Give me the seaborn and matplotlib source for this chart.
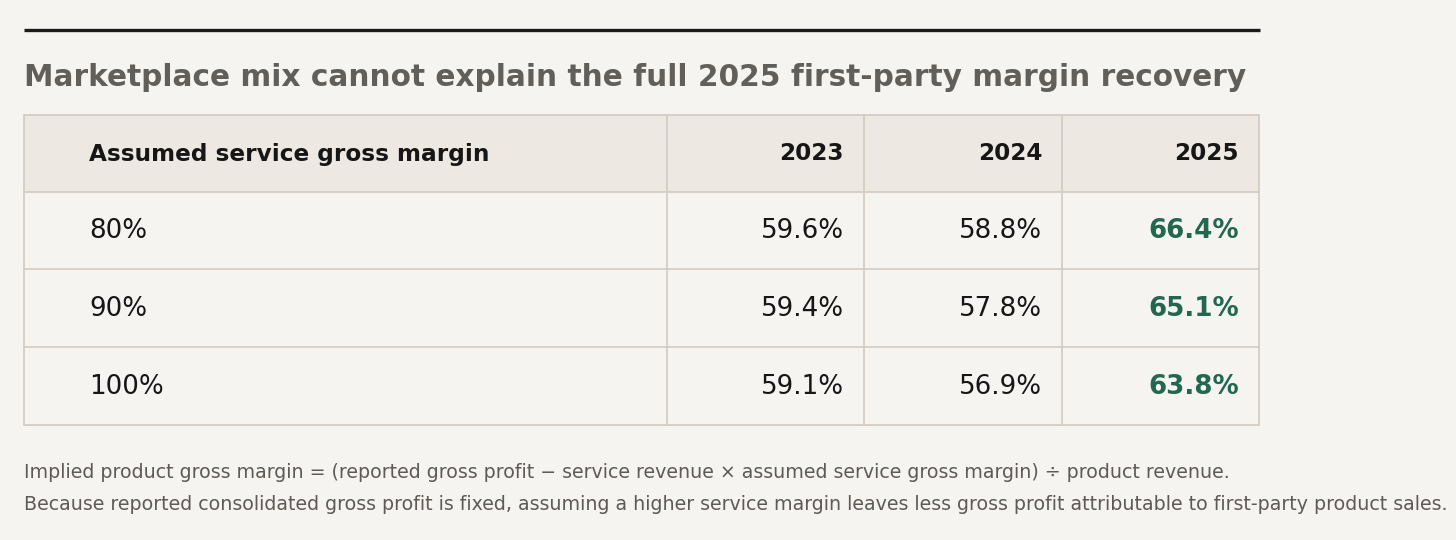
import matplotlib
import seaborn as sns

matplotlib.use("Agg")
from matplotlib import pyplot as plt
from matplotlib.patches import Rectangle

TITLE = "Marketplace mix cannot explain the full 2025 first-party margin recovery"
HEADER_LABEL = "Assumed service gross margin"
YEARS = ["2023", "2024", "2025"]
SERVICE_MARGINS = ["80%", "90%", "100%"]
MARGIN_2023 = [59.6, 59.4, 59.1]
MARGIN_2024 = [58.8, 57.8, 56.9]
MARGIN_2025 = [66.4, 65.1, 63.8]
NOTES = [
    "Implied product gross margin = (reported gross profit \u2212 service revenue \u00d7 assumed service gross margin) \u00f7 product revenue.",
    "Because reported consolidated gross profit is fixed, assuming a higher service margin leaves less gross profit attributable to first-party product sales.",
]

BG = "#f6f4f0"
HEADER_BG = "#ede8e1"
BORDER = "#d4cbbf"
INK = "#161616"
TITLE_INK = "#625e5a"
NOTE_INK = "#5f5a56"
GREEN = "#22674f"
FONT = "DejaVu Sans"

sns.set_theme(style="white", font=FONT, rc={"figure.facecolor": BG, "axes.facecolor": BG})
plt.rcParams["font.family"] = [FONT]

fig = plt.figure(figsize=(14.56, 5.4), dpi=100)
ax = fig.add_axes([0, 0, 1, 1])
ax.set_xlim(0, 1456)
ax.set_ylim(540, 0)
ax.axis("off")

# top rule and title
ax.plot([24, 1260], [29.5, 29.5], color="#1a1a1a", lw=2.4, solid_capstyle="butt")
ax.text(24, 86, TITLE, fontsize=21.35, fontweight="bold", color=TITLE_INK,
        va="baseline", ha="left", family=FONT)

col_edges = [24, 667, 864, 1062, 1259]
row_edges = [115, 192, 269, 347, 425]

# header background
ax.add_patch(Rectangle((col_edges[0], row_edges[0]), col_edges[-1] - col_edges[0],
                       row_edges[1] - row_edges[0], facecolor=HEADER_BG, edgecolor="none"))

for x in col_edges:
    ax.plot([x, x], [row_edges[0], row_edges[-1]], color=BORDER, lw=1.2)
for y in row_edges:
    ax.plot([col_edges[0], col_edges[-1]], [y, y], color=BORDER, lw=1.2)

pad_left = 65
pad_right = 20

header_base = (row_edges[0] + row_edges[1]) / 2 + 7
ax.text(col_edges[0] + pad_left, header_base, HEADER_LABEL, fontsize=16.65, fontweight="bold",
        color=INK, va="baseline", ha="left", family=FONT)
for j, year in enumerate(YEARS):
    ax.text(col_edges[j + 2] - pad_right, header_base, year, fontsize=16.65, fontweight="bold",
            color=INK, va="baseline", ha="right", family=FONT)

columns = [MARGIN_2023, MARGIN_2024, MARGIN_2025]
for i, label in enumerate(SERVICE_MARGINS):
    base = (row_edges[i + 1] + row_edges[i + 2]) / 2 + 7.5
    ax.text(col_edges[0] + pad_left, base, label, fontsize=18.8, color=INK,
            va="baseline", ha="left", family=FONT)
    for j, values in enumerate(columns):
        last = j == len(columns) - 1
        ax.text(col_edges[j + 2] - pad_right, base, f"{values[i]:.1f}%", fontsize=18.8,
                fontweight="bold" if last else "normal", color=GREEN if last else INK,
                va="baseline", ha="right", family=FONT)

for k, note in enumerate(NOTES):
    ax.text(24, 478.5 + 31 * k, note, fontsize=13.67, color=NOTE_INK,
            va="baseline", ha="left", family=FONT)

fig.savefig("out.png", dpi=100, facecolor=BG)
